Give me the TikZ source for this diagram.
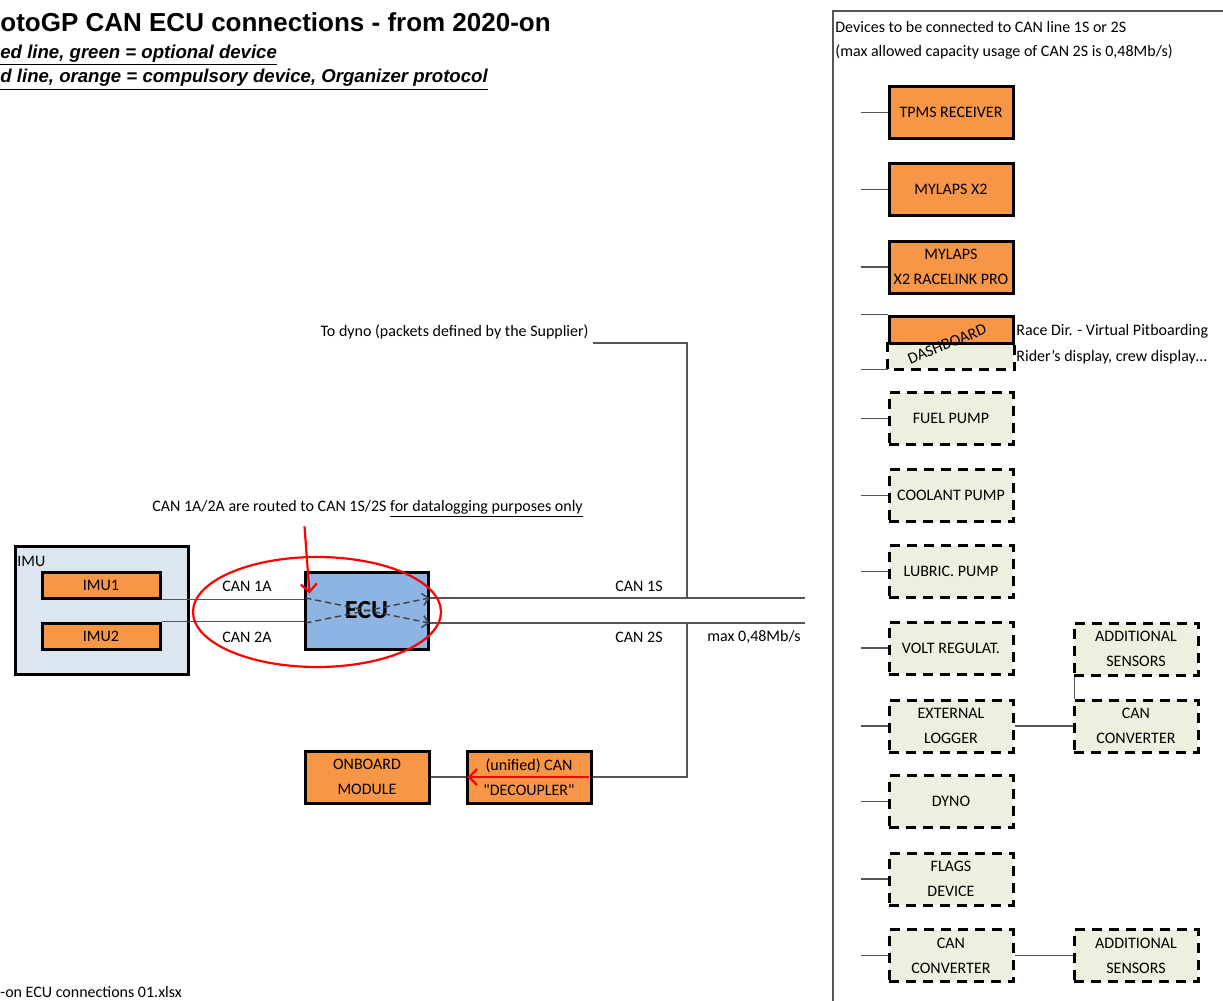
\documentclass[tikz,border=0pt]{standalone}
\usepackage{fontspec}
\setmainfont{Carlito}
\newfontfamily\headfont{Liberation Sans}
\usepackage{tikz}
\usetikzlibrary{arrows.meta, positioning, shapes.geometric, calc}

\definecolor{devorange}{HTML}{F79646}
\definecolor{optgreen}{HTML}{EBF1DE}
\definecolor{ecublue}{HTML}{8DB4E2}
\definecolor{imublue}{HTML}{DCE6F1}
\definecolor{wiregray}{HTML}{555555}

\begin{document}
\begin{tikzpicture}[x=0.5pt, y=-0.5pt,
      font=\fontsize{8}{12.5}\selectfont,
      compulsory/.style={rectangle, draw, line width=1.5pt, fill=devorange, minimum width=62pt, minimum height=26pt, inner sep=0pt, align=center},
      optional/.style={rectangle, draw, line width=1.5pt, dash pattern=on 5pt off 3.5pt, fill=optgreen, minimum width=62pt, minimum height=26pt, inner sep=0pt, align=center},
      wire/.style={draw=wiregray, line width=0.7pt},
      route/.style={draw=black!75, line width=0.7pt, dash pattern=on 3pt off 2pt, -{Straight Barb[length=3pt,width=6pt]}},
      redarrow/.style={draw=red, line width=1.1pt, -{Straight Barb[length=4pt,width=8pt]}},
      txt/.style={inner sep=0pt}]

      \useasboundingbox (0,0) rectangle (1223,1001);

      % Heading
      \node[txt, anchor=base west, font=\headfont\bfseries\fontsize{13}{15}\selectfont] (title) at (0,32) {otoGP CAN ECU connections - from 2020-on};
      \node[txt, anchor=base west, font=\headfont\bfseries\itshape\fontsize{9.3}{11}\selectfont] (legend1) at (0,58) {\underline{ed line, green = optional device}};
      \node[txt, anchor=base west, font=\headfont\bfseries\itshape\fontsize{9.3}{11}\selectfont] (legend2) at (0,83) {\underline{d line, orange = compulsory device, Organizer protocol}};
      \node[txt, anchor=base west] (footer) at (0,997) {-on ECU connections 01.xlsx};

      % IMU and ECU
      \node[rectangle, draw, line width=1.5pt, fill=imublue, minimum width=86.5pt, minimum height=64pt] (imu) at (101.5,610) {};
      \node[txt, anchor=west] (imutxt) at (17,561) {IMU};
      \node[compulsory, minimum width=59pt, minimum height=13pt] (imu1) at (101,585) {IMU1};
      \node[compulsory, minimum width=59pt, minimum height=13pt] (imu2) at (101,636) {IMU2};
      \node[rectangle, draw, line width=1.5pt, fill=ecublue, minimum width=61.5pt, minimum height=38.5pt, font=\fontsize{13}{15}\selectfont\bfseries] (ecu) at (366.5,610.5) {ECU};

      \coordinate (bus1) at (805,598);
      \coordinate (bus2) at (805,623);
      \coordinate (tap1) at (687,598);
      \coordinate (tap2) at (687,623);

      \draw[wire] (imu1.south east) -- (imu1.south east -| ecu.west);
      \draw[wire] (imu2.north east) -- (imu2.north east -| ecu.west);
      \draw[wire] (ecu.east |- bus1) -- (bus1);
      \draw[wire] (ecu.east |- bus2) -- (bus2);

      % Routing inside the ECU
      \draw[route] ([xshift=1pt]ecu.west |- bus1) -- (ecu.east |- bus2);
      \draw[route] ([xshift=1pt]ecu.west |- bus2) -- (ecu.east |- bus1);

      \node[txt] (can1a) at (247,586) {CAN 1A};
      \node[txt] (can2a) at (247,637) {CAN 2A};
      \node[txt] (can1s) at (639,586) {CAN 1S};
      \node[txt] (can2s) at (639,637) {CAN 2S};
      \node[txt] (maxrate) at (754,637) {max 0,48Mb/s};

      % Dyno output
      \node[txt, anchor=south east] (todyno) at (589,339) {To dyno (packets defined by the Supplier)};
      \draw[wire] ([xshift=2pt,yshift=-2pt]todyno.south east) -| (tap1);

      % Onboard module
      \node[compulsory] (onboard) at (367,777) {ONBOARD\\MODULE};
      \node[compulsory] (decoupler) at (529,777) {(unified) CAN\\\textquotedbl DECOUPLER\textquotedbl};
      \draw[wire] (tap2) |- (decoupler.east);
      \draw[wire] (onboard) -- (decoupler);
      \draw[redarrow] ([xshift=-2pt]decoupler.east) -- ([xshift=1pt]decoupler.west);

      % Note and highlight
      \node[txt] (note) at (367.5,509) {CAN 1A/2A are routed to CAN 1S/2S \underline{for datalogging purposes only}};
      \node[draw=red, line width=1.1pt, ellipse, minimum width=124pt, minimum height=55pt, inner sep=0pt] (hilite) at (317,612) {};
      \draw[redarrow] ([xshift=-31.5pt,yshift=-4pt]note.south) -- ([xshift=3pt,yshift=-11.5pt]ecu.north west);

      % Device panel
      \draw[wiregray, line width=0.7pt] (833,1001) -- (833,11) -- (1223,11);
      \node[txt, anchor=west] (panel1) at (835,27) {Devices to be connected to CAN line 1S or 2S};
      \node[txt, anchor=west] (panel2) at (835,52) {(max allowed capacity usage of CAN 2S is 0,48Mb/s)};

      \node[compulsory] (tpms) at (951,112.5) {TPMS RECEIVER};
      \node[compulsory] (mylaps) at (951,189.5) {MYLAPS X2};
      \node[compulsory] (racelink) at (951,267) {MYLAPS\\X2 RACELINK PRO};

      \node[optional, draw=none, minimum height=12.5pt] (dashbot) at (951,355.5) {};
      \draw[line width=1.5pt, dash pattern=on 5pt off 3.5pt] (dashbot.north west) -- (dashbot.south west) -- (dashbot.south east) -- (dashbot.north east);
      \node[compulsory, minimum height=13.5pt] (dashtop) at (951,329.5) {};
      \node[rotate=22] (dashtxt) at (947,344) {DASHBOARD};
      \node[txt, anchor=west] (racedir) at (1016,331) {Race Dir. - Virtual Pitboarding};
      \node[txt, anchor=west] (rider) at (1016,357) {Rider's display, crew display…};

      \node[optional] (fuel) at (951,418.5) {FUEL PUMP};
      \node[optional] (coolant) at (951,495.5) {COOLANT PUMP};
      \node[optional] (lubric) at (951,571.5) {LUBRIC. PUMP};
      \node[optional] (volt) at (951,648) {VOLT REGULAT.};
      \node[optional] (extlog) at (951,726) {EXTERNAL\\LOGGER};
      \node[optional] (dyno) at (951,801.5) {DYNO};
      \node[optional] (flags) at (951,879) {FLAGS\\DEVICE};
      \node[optional] (canconv) at (951,955.5) {CAN\\CONVERTER};

      \node[optional] (addsens) at (1136,649) {ADDITIONAL\\SENSORS};
      \node[optional] (logconv) at (1136,726) {CAN\\CONVERTER};
      \node[optional] (convsens) at (1136,955.5) {ADDITIONAL\\SENSORS};

      % Stubs to the bus
      \foreach \dev in {tpms, mylaps, racelink, fuel, coolant, lubric, volt, extlog, dyno, flags, canconv} {
        \draw[wire] (\dev.west) -- ++(-27,0);
      }
      \draw[wire] (dashtop.north west) -- ++(-27,0);
      \draw[wire] (dashbot.south west) -- ++(-27,0);

      \draw[wire] (extlog) -- (logconv);
      \draw[wire] ([xshift=1pt]addsens.south west) -- ([xshift=1pt]logconv.north west);
      \draw[wire] (canconv) -- (convsens);
    \end{tikzpicture}
\end{document}
